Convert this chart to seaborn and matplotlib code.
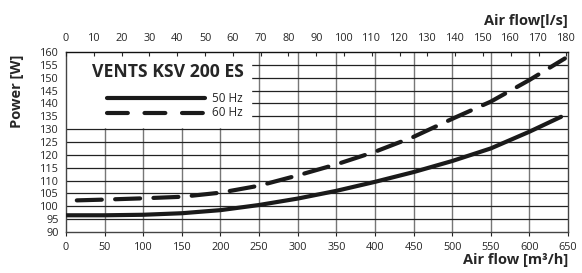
import numpy as np
import pandas as pd
import matplotlib
matplotlib.use("Agg")
import matplotlib.pyplot as plt
import seaborn as sns

# curve data (air flow m3/h -> power W)
flow_50 = [0, 50, 100, 150, 200, 250, 300, 350, 400, 450, 500, 550, 600, 641]
power_50 = [96.5, 96.5, 96.7, 97.3, 98.5, 100.5, 103.0, 106.0, 109.5, 113.3, 117.6, 122.5, 129.0, 134.8]
flow_60 = [14, 50, 100, 150, 200, 250, 300, 350, 400, 450, 500, 550, 600, 646]
power_60 = [102.3, 102.6, 103.1, 103.7, 105.3, 108.0, 112.0, 116.3, 121.2, 127.0, 134.0, 140.7, 149.1, 157.5]
labels = ["50 Hz", "60 Hz"]
title = "VENTS KSV 200 ES"

df = pd.concat([
    pd.DataFrame({"flow": flow_50, "power": power_50, "freq": labels[0]}),
    pd.DataFrame({"flow": flow_60, "power": power_60, "freq": labels[1]}),
])

sns.set_style("white")
plt.rcParams["font.family"] = ["Open Sans", "DejaVu Sans"]

fig = plt.figure(figsize=(5.82, 2.73), dpi=100)
ax = fig.add_axes([66/582, 41/273, 502/582, 180/273])

# grid
for x in range(50, 650, 50):
    ax.axvline(x, color="#777777", lw=1.0, zorder=1)
for y in range(95, 160, 5):
    ax.axhline(y, color="#222222", lw=0.9, zorder=1)
# white box behind the title / legend
ax.add_patch(plt.Rectangle((0, 130.8), 240, 30, color="white", zorder=2))

sns.lineplot(data=df, x="flow", y="power", hue="freq", style="freq",
             palette=["#1a1a1a", "#1a1a1a"], dashes=[(None, None), (6, 3.2)],
             linewidth=3, legend=False, ax=ax, zorder=3, estimator=None,
             sort=False)
for ln in ax.lines[-2:]:
    ln.set_solid_capstyle("round")
    ln.set_dash_capstyle("round")

ax.set_xlim(0, 650)
ax.set_ylim(90, 160)
ax.set_xticks(range(0, 651, 50))
ax.set_yticks(range(90, 161, 5))
ax.tick_params(axis="both", labelsize=7.8, length=3, width=0.8, color="#222222", pad=2)
ax.tick_params(axis="x", pad=4)
for s in ax.spines.values():
    s.set_color("#444444")
    s.set_linewidth(1.0)
ax.spines["top"].set_color("#111111")
ax.set_xlabel("Air flow [m³/h]", fontsize=10.5, fontweight="bold", loc="right", labelpad=0)
ax.set_ylabel("")
fig.text(17/582, 1 - 91/273, "Power [W]", fontsize=10.5, fontweight="bold",
         rotation=90, ha="center", va="center")

# top axis in l/s
top = ax.twiny()
top.set_xlim(0, 650 / 3.6)
top.set_xticks(range(0, 181, 10))
top.tick_params(axis="x", labelsize=7.8, length=3, direction="in", pad=5.5, width=0.8)
top.set_xlabel("Air flow[l/s]", fontsize=10.5, fontweight="bold", loc="right", labelpad=6)
for s in top.spines.values():
    s.set_visible(False)

ax.text(132, 152.3, title, fontsize=12.7, fontweight="bold", ha="center", va="center", zorder=4)
ax.plot([53, 180], [142.1, 142.1], color="#1a1a1a", lw=3, zorder=4, solid_capstyle="round")
ax.plot([53, 180], [136.3, 136.3], color="#1a1a1a", lw=3, zorder=4, dashes=(5, 4), dash_capstyle="round")
ax.text(189, 142.1, labels[0], fontsize=8.5, va="center", zorder=4)
ax.text(189, 136.3, labels[1], fontsize=8.5, va="center", zorder=4)

fig.savefig("out.png", dpi=100)
